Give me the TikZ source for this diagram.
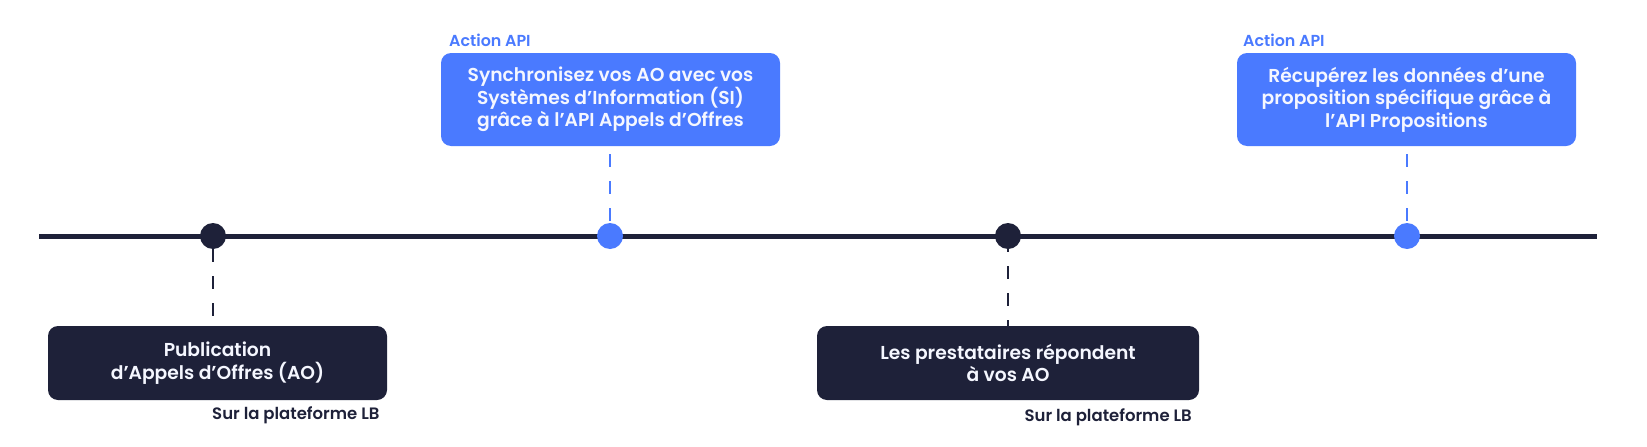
\documentclass[tikz,border=0pt]{standalone}
\usepackage{fontspec}
\setmainfont{Poppins}[UprightFont={* SemiBold},BoldFont={* Bold}]
\definecolor{navy}{HTML}{1E2139}
\definecolor{apiblue}{HTML}{4A7AFF}
\definecolor{boxtxt}{HTML}{F5F7FF}
\begin{document}
\begin{tikzpicture}[x=1pt,y=-1pt,
  boxbase/.style={rounded corners=10pt, inner sep=0pt, align=center, text=boxtxt,
     font=\fontsize{18.7}{22.5}\selectfont},
  apibox/.style={boxbase, fill=apiblue, minimum width=339pt, minimum height=93pt},
  navybox/.style={boxbase, fill=navy, minimum height=74pt},
  dotnavy/.style={circle, fill=navy, minimum size=26pt, inner sep=0pt},
  dotblue/.style={circle, fill=apiblue, minimum size=26pt, inner sep=0pt},
  apilabel/.style={text=apiblue, font=\fontsize{15.9}{18}\selectfont, inner sep=0pt},
  lblabel/.style={text=navy, font=\fontsize{16.5}{18}\selectfont, inner sep=0pt},
  dashnavy/.style={draw=navy, line width=2pt, dash pattern=on 13pt off 14pt},
  dashblue/.style={draw=apiblue, line width=2pt, dash pattern=on 13pt off 14pt},
  tline/.style={draw=navy, line width=5pt}
]
\useasboundingbox (0,0) rectangle (1647,447);
\fill[white] (0,0) rectangle (1647,447);
% timeline
\coordinate (tstart) at (39,236);
\coordinate (tend) at (1597,236);
\draw[tline] (tstart) -- (tend);
% dots
\node[dotnavy] (d1) at (213,236) {};
\node[dotblue] (d2) at (610,236) {};
\node[dotnavy] (d3) at (1008,236) {};
\node[dotblue] (d4) at (1407,236) {};
% blue boxes
\node[apibox] (bA) at (610.5,99.5) {Synchronisez vos AO avec vos\\Systèmes d’Information (SI)\\grâce à l’API Appels d’Offres};
\node[apibox] (bB) at (1406.5,99.5) {Récupérez les données d’une\\proposition spécifique grâce à\\l’API Propositions};
\node[apilabel, anchor=west] (lA) at (449,40) {Action API};
\node[apilabel, anchor=west] (lB) at (1243,40) {Action API};
% navy boxes
\node[navybox, minimum width=339pt] (n1) at (217.5,363) {Publication\\d’Appels d’Offres (AO)};
\node[navybox, minimum width=382pt] (n2) at (1008,363) {Les prestataires répondent\\à vos AO};
\node[lblabel, anchor=west] (s1) at (212,415) {Sur la plateforme LB};
\node[lblabel, anchor=east] (s2) at (1192,417) {Sur la plateforme LB};
% dashed connectors
\draw[dashblue] ([yshift=-8pt]bA.south -| d2) -- ([yshift=-3pt]d2.north);
\draw[dashblue] ([yshift=-8pt]bB.south -| d4) -- ([yshift=-3pt]d4.north);
\draw[dashnavy] (d1.south) -- (d1 |- n1.north);
\draw[dashnavy] ([yshift=10pt]d3.south) -- (n2.north);
\end{tikzpicture}
\end{document}
